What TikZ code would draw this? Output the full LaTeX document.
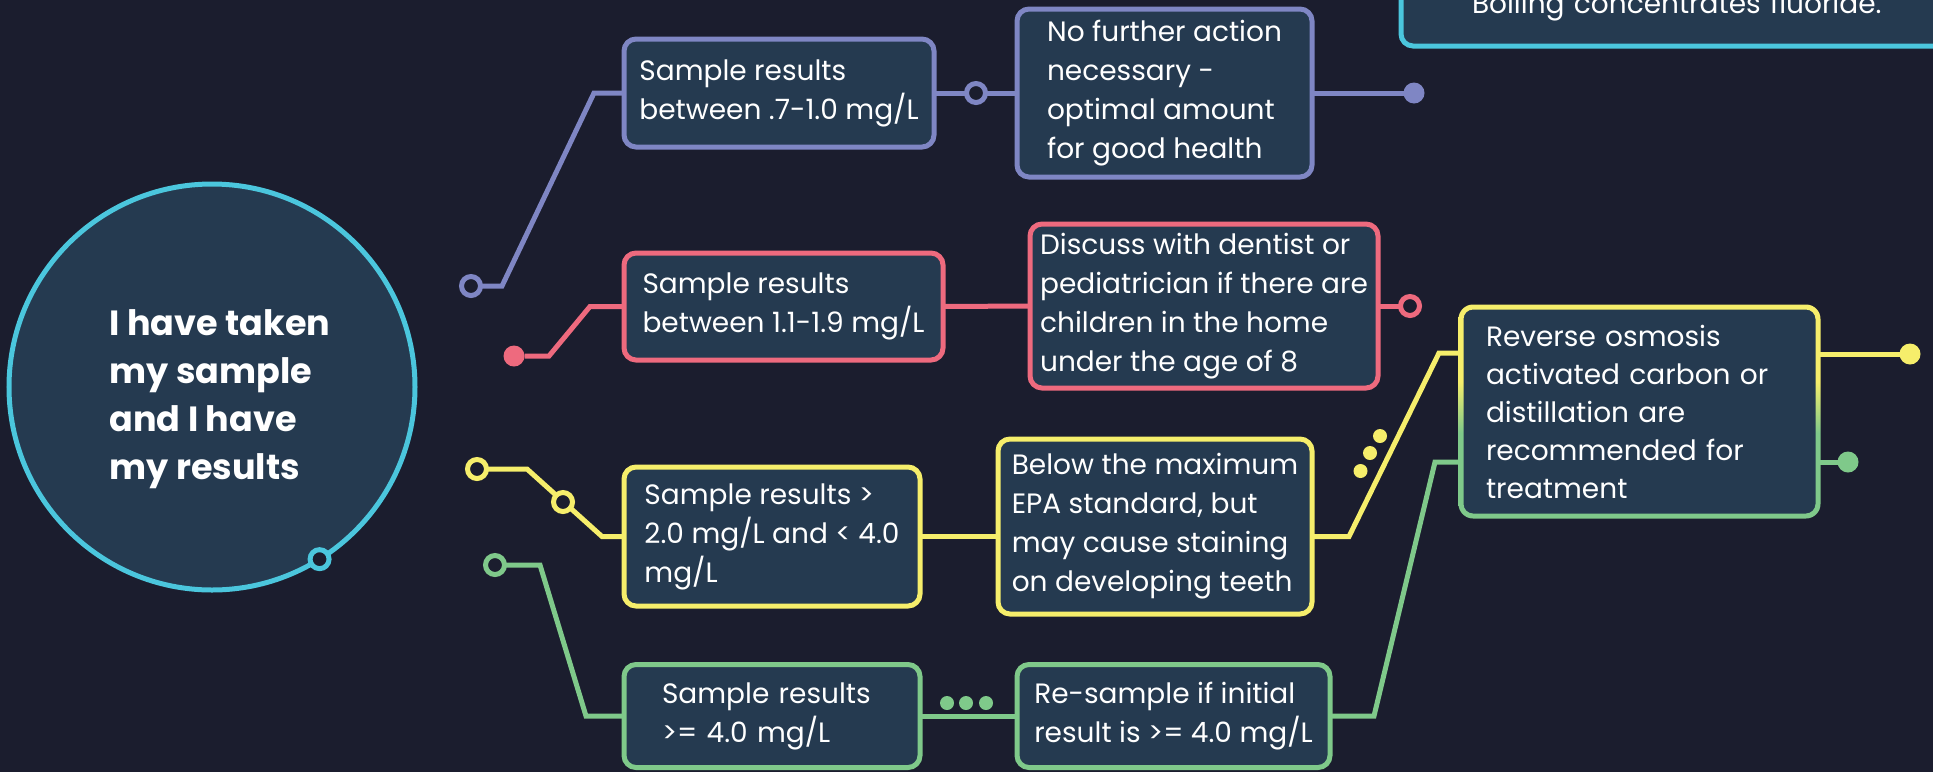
\documentclass[tikz,border=0pt]{standalone}
\usepackage{fontspec}
\setmainfont{Poppins}
\usetikzlibrary{calc}
\definecolor{bgc}{HTML}{1B1D2E}
\definecolor{boxfill}{HTML}{253A50}
\definecolor{cpurple}{HTML}{7F86C4}
\definecolor{cred}{HTML}{EE6A7E}
\definecolor{cyellow}{HTML}{F6EE6B}
\definecolor{cgreen}{HTML}{7FC98A}
\definecolor{ccyan}{HTML}{4BC6DD}
\newcommand{\mybodyfont}{\fontsize{14pt}{19.5pt}\selectfont}
\newcommand{\mytitlefont}{\fontsize{17.5pt}{24pt}\selectfont\bfseries}
\pgfdeclarelayer{bglayer}
\pgfdeclarelayer{linelayer}
\pgfsetlayers{bglayer,linelayer,main}
\pgfdeclareverticalshading{ygshade}{100bp}{color(0bp)=(cgreen); color(45bp)=(cgreen); color(57bp)=(cyellow); color(100bp)=(cyellow)}
\begin{document}
\begin{tikzpicture}[x=0.5pt, y=-0.5pt,
  box/.style={rounded corners=6pt, line width=2.5pt, fill=boxfill, text=white, align=left, inner sep=0pt, outer sep=0pt, font=\mybodyfont},
  conn/.style={line width=2.5pt},
  opendot/.style={circle, fill=bgc, line width=2.5pt, minimum size=9.5pt, inner sep=0pt, outer sep=0pt},
  filldot/.style={circle, minimum size=10.5pt, inner sep=0pt, outer sep=0pt},
  smalldot/.style={circle, minimum size=7pt, inner sep=0pt, outer sep=0pt}]
\begin{pgfonlayer}{bglayer}
\fill[bgc] (0,0) rectangle (1933,772);
\end{pgfonlayer}
\useasboundingbox (0,0) rectangle (1933,772);
\clip (0,0) rectangle (1933,772);

% central circle
\node[circle, draw=ccyan, fill=boxfill, line width=2.5pt, minimum size=203pt, inner sep=0pt, outer sep=0pt] (C0) at (212,387) {};
\node[text=white, align=left, font=\mytitlefont, inner sep=0pt] (T) at (220,399) {I have taken\\my sample\\and I have\\my results};
\node[opendot, draw=ccyan] (C1) at (C0.-58.5) {};

% top right cyan box
\node[box, draw=ccyan, anchor=base west, text width=210pt, inner xsep=35.5pt, inner ysep=13.5pt, text depth=3pt] (CB) at (1401,13) {Boiling concentrates fluoride.};

% boxes
\node[box, draw=cpurple, minimum width=155pt, minimum height=54pt] (B1) at (779,93) {Sample results\\between .7-1.0 mg/L};
\node[box, draw=cpurple, minimum width=147.5pt, minimum height=84pt] (B2) at (1164.5,93) {No further action\\necessary -\\optimal amount\\for good health};
\node[box, draw=cred, minimum width=159.5pt, minimum height=53.5pt] (B3) at (783.5,306.5) {Sample results\\between 1.1-1.9 mg/L};
\node[box, draw=cred, minimum width=174pt, minimum height=82pt] (B4) at (1204,306) {Discuss with dentist or\\pediatrician if there are\\children in the home\\under the age of 8};
\node[box, draw=cyellow, minimum width=148pt, minimum height=69.5pt] (B5) at (772,536.5) {Sample results >\\2.0 mg/L and < 4.0\\mg/L};
\node[box, draw=cyellow, minimum width=157pt, minimum height=87.5pt] (B6) at (1155,526.5) {Below the maximum\\EPA standard, but\\may cause staining\\on developing teeth};
\node[box, draw=none, text width=153.5pt, inner xsep=12.5pt, minimum width=178.5pt, minimum height=104.5pt, font=\fontsize{14pt}{19pt}\selectfont] (B7) at (1639.5,411.5) {Reverse osmosis\\activated carbon or\\distillation are\\recommended for\\treatment};
\shade[shading=ygshade, even odd rule, rounded corners=7.25pt]
  ($(B7.south west)+(-2.5,2.5)$) rectangle ($(B7.north east)+(2.5,-2.5)$)
  [rounded corners=4.75pt] ($(B7.south west)+(2.5,-2.5)$) rectangle ($(B7.north east)+(-2.5,2.5)$);
\node[box, draw=cgreen, text width=110pt, inner xsep=19pt, minimum width=148pt, minimum height=51.5pt] (B8) at (772,716) {Sample results\\>= 4.0 mg/L};
\node[box, draw=cgreen, minimum width=156.5pt, minimum height=51.5pt] (B9) at (1173.5,716) {Re-sample if initial\\result is >= 4.0 mg/L};

% end dots
\node[opendot, draw=cpurple] (P0) at (471,286) {};
\node[opendot, draw=cpurple] (P1) at (976,93) {};
\node[filldot, fill=cpurple] (P2) at (1414,93) {};
\node[filldot, fill=cred] (R0) at (514,356) {};
\node[opendot, draw=cred] (R1) at (1410,306) {};
\node[opendot, draw=cyellow] (Y0) at (477,469) {};
\node[opendot, draw=cyellow] (Y1) at (563,502) {};
\node[filldot, fill=cyellow] (Y2) at (1910,354) {};
\node[smalldot, fill=cyellow] (yd1) at (1380,436) {};
\node[smalldot, fill=cyellow] (yd2) at (1370,453) {};
\node[smalldot, fill=cyellow] (yd3) at (1360.5,471) {};
\node[opendot, draw=cgreen] (G0) at (495,565) {};
\node[filldot, fill=cgreen] (G1) at (1848,462) {};
\node[smalldot, fill=cgreen] (gd1) at (947,703) {};
\node[smalldot, fill=cgreen] (gd2) at (966,703) {};
\node[smalldot, fill=cgreen] (gd3) at (986,703) {};
\coordinate (Y7) at (1439,353);
\coordinate (G7) at (1435,462);

\begin{pgfonlayer}{linelayer}
\draw[conn, cpurple] (P0) -- (502,286) -- (594,93) -- (B1.west);
\draw[conn, cpurple] (B1.east) -- (B2.west);
\draw[conn, cpurple] (B2.east) -- (P2);
\draw[conn, cred] (R0) -- (549,356) -- (590,306.5) -- (B3.west);
\draw[conn, cred] (B3.east) -- (B4.west);
\draw[conn, cred] (B4.east) -- (R1);
\draw[conn, cyellow] (Y0) -- (527,469) -- (602,536.5) -- (B5.west);
\draw[conn, cyellow] (B5.east) -- (B6.west |- B5.east);
\draw[conn, cyellow] (B6.east |- B5.east) -- (1349,536.5) -- (Y7) -- (B7.west |- Y7);
\draw[conn, cyellow] (B7.east |- Y2) -- (Y2);
\draw[conn, cgreen] (G0) -- (540,565) -- (586,716) -- (B8.west);
\draw[conn, cgreen] (B8.east) -- (B9.west);
\draw[conn, cgreen] (B9.east) -- (1374,716) -- (G7) -- (B7.west |- G7);
\draw[conn, cgreen] (B7.east |- G1) -- (G1);
\end{pgfonlayer}
\end{tikzpicture}
\end{document}
